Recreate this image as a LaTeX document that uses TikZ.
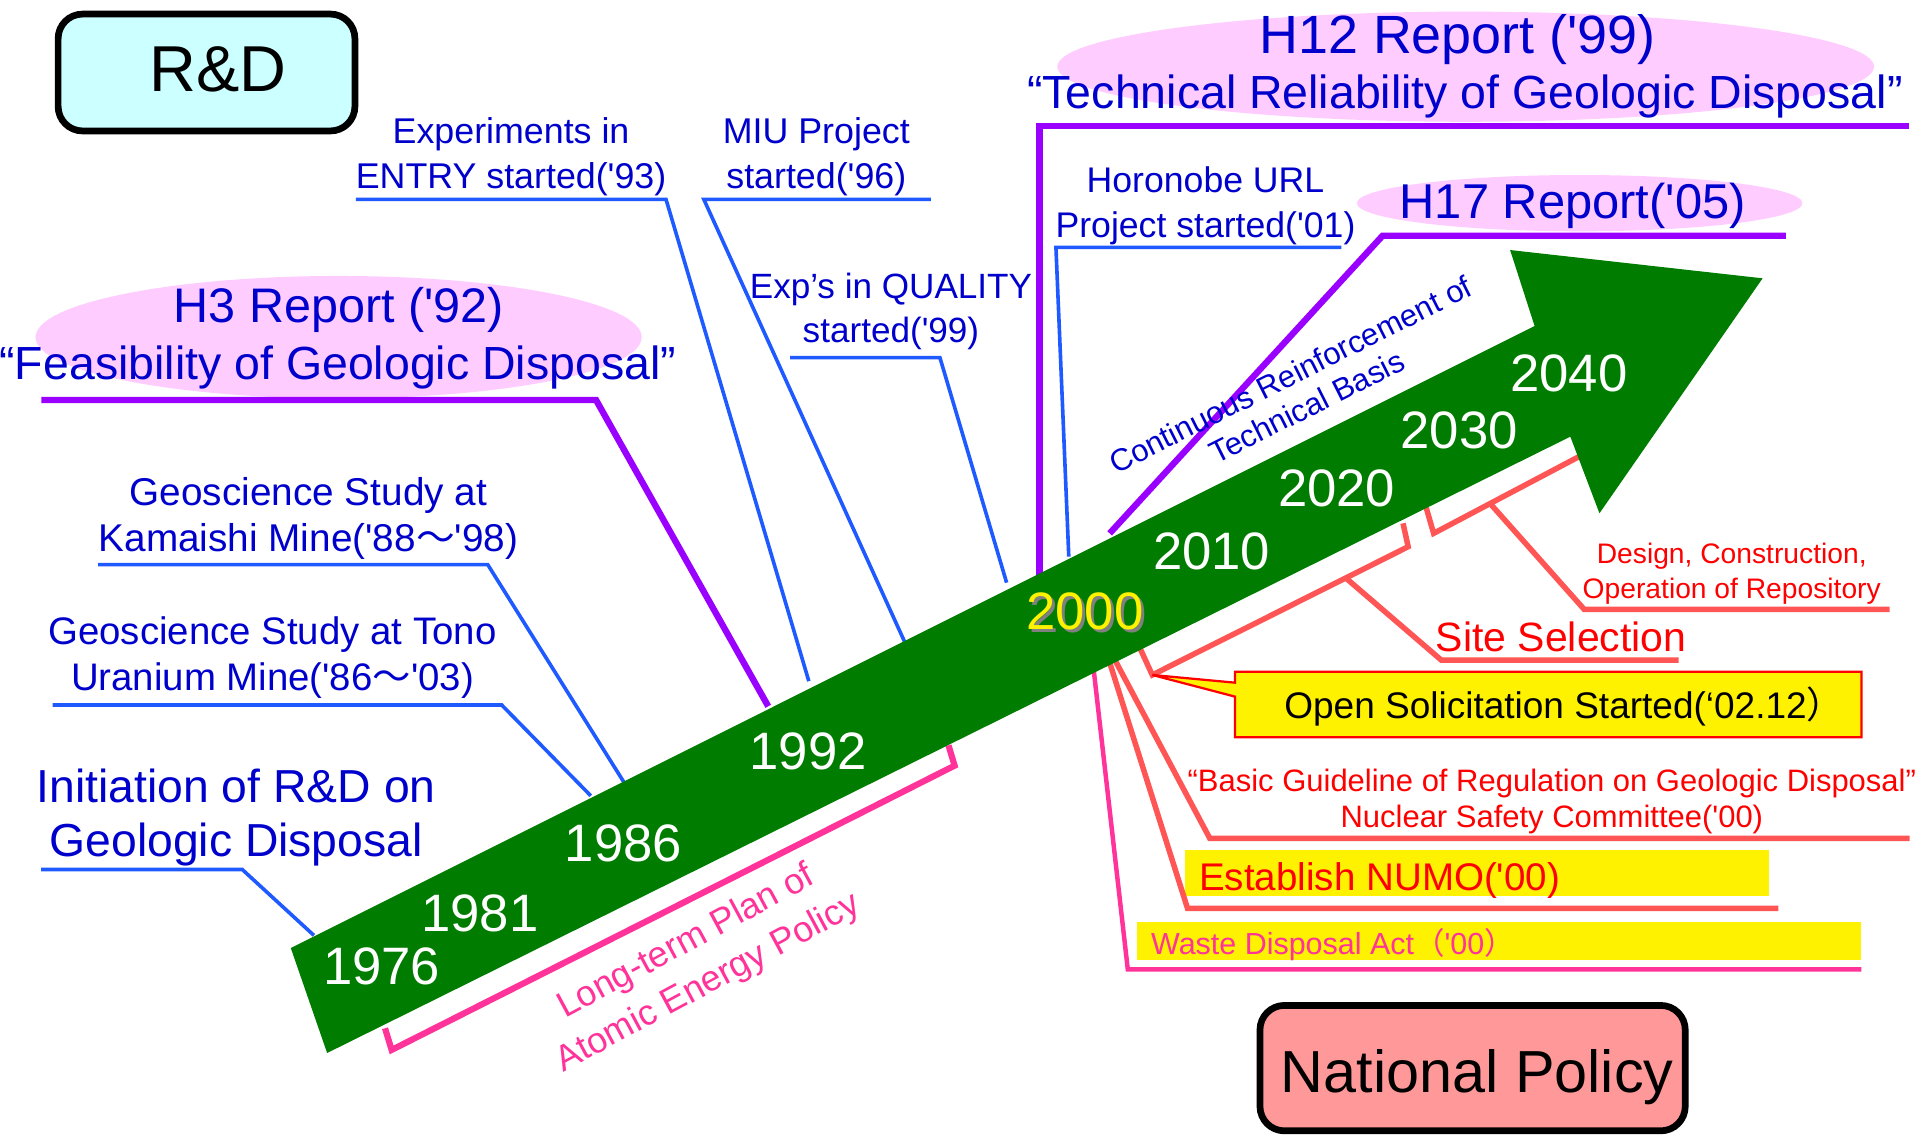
\documentclass[tikz,border=0pt]{standalone}
\usepackage{fontspec}
\setmainfont{Liberation Sans}
\newfontfamily\cjk{Noto Sans CJK JP}
\newcommand\sq{\textquotesingle}
\newcommand\fsz[2]{\fontsize{#1}{#2}\selectfont}
\definecolor{tblue}{RGB}{0,0,204}
\definecolor{lblue}{RGB}{30,90,255}
\definecolor{purp}{RGB}{153,0,255}
\definecolor{pinkfill}{RGB}{255,204,255}
\definecolor{bandgreen}{RGB}{0,125,0}
\definecolor{lred}{RGB}{255,85,85}
\definecolor{tred}{RGB}{255,0,0}
\definecolor{tpink}{RGB}{255,51,153}
\definecolor{cyanfill}{RGB}{204,255,255}
\definecolor{salmon}{RGB}{255,153,153}
\begin{document}
\begin{tikzpicture}[x=0.025cm,y=-0.025cm,
  every node/.style={inner sep=0pt,outer sep=0pt},
  titlebox/.style={draw=black,line width=3.9pt,rounded corners=0.5cm},
  purpline/.style={draw=purp,line width=3.7pt},
  blueline/.style={draw=lblue,line width=2.1pt},
  redline/.style={draw=lred,line width=3.2pt},
  pinkline/.style={draw=tpink,line width=2.6pt},
  bracketpink/.style={draw=tpink,line width=3.6pt},
  yearlbl/.style={text=white,font=\fsz{30.6pt}{36pt}},
  bluelbl/.style={align=center,text=tblue},
  reptitle/.style={anchor=base,text=tblue},
]
\useasboundingbox (0,0) rectangle (1568,927);

% ---------- pink ellipses behind report titles
\fill[pinkfill] (276.7,275.5) ellipse [x radius=6.19cm, y radius=1.25cm];
\fill[pinkfill] (1197.6,54.5) ellipse [x radius=8.34cm, y radius=1.125cm];
\fill[pinkfill] (1290.7,166) ellipse [x radius=4.55cm, y radius=0.575cm];

% ---------- title boxes
\draw[titlebox,fill=cyanfill] (47.5,11.5) rectangle (290,107);
\node[anchor=base,font=\fsz{37.7pt}{40pt}] (rd) at (178.4,74.9) {R\&D};
\draw[titlebox,fill=salmon] (1029.5,821.5) rectangle (1377,924);
\node[anchor=base,font=\fsz{34.5pt}{38pt}] (np) at (1207,893) {National Policy};

% ---------- coordinates of connector bends and ends
\coordinate (h3a) at (33.9,326.8);   \coordinate (h3b) at (487,326.8);    \coordinate (h3c) at (627.7,577.1);
\coordinate (h12a) at (1559.7,103);  \coordinate (h12b) at (849.5,103);   \coordinate (h12c) at (849.5,471);
\coordinate (h17a) at (1459.3,192.6);\coordinate (h17b) at (1129.7,192.6);\coordinate (h17c) at (906.7,435.8);
\coordinate (expa) at (290.7,162.9); \coordinate (expb) at (544.2,162.9); \coordinate (expc) at (660.9,556.6);
\coordinate (miua) at (760.6,162.9); \coordinate (miub) at (575.1,162.9); \coordinate (miuc) at (739.1,524.3);
\coordinate (qua) at (645.5,292.2);  \coordinate (qub) at (768,292.2);    \coordinate (quc) at (822.5,476.1);
\coordinate (hora) at (1096,202.1);  \coordinate (horb) at (862.8,202.1); \coordinate (horc) at (873.3,454.8);
\coordinate (kama) at (80.2,461.3);  \coordinate (kamb) at (398.5,461.3); \coordinate (kamc) at (509.9,639.3);
\coordinate (tona) at (43.1,576);    \coordinate (tonb) at (409.9,576);   \coordinate (tonc) at (482.7,650.2);
\coordinate (inia) at (33.7,710.5);  \coordinate (inib) at (198,710.5);   \coordinate (inic) at (256.5,764.3);
\coordinate (ssa) at (931.5,529.7);  \coordinate (ssb) at (941.5,551.5);  \coordinate (ssc) at (1150.6,446.7); \coordinate (ssd) at (1146.4,427.6);
\coordinate (ssm) at (1100.5,473);   \coordinate (sse) at (1177.6,539.3); \coordinate (ssf) at (1371.5,539.3);
\coordinate (dca) at (1165.1,414);   \coordinate (dcb) at (1171.4,435.8); \coordinate (dcc) at (1290.2,373.1);
\coordinate (dcm) at (1217.2,411);   \coordinate (dce) at (1294.4,497.9); \coordinate (dcf) at (1544,497.9);
\coordinate (bga) at (911,539.3);    \coordinate (bgb) at (988.5,685);    \coordinate (bgc) at (1560.3,685);
\coordinate (nma) at (905.6,537.9);  \coordinate (nmb) at (970.3,742.2);  \coordinate (nmc) at (1453,742.2);
\coordinate (wda) at (893.3,544.2);  \coordinate (wdb) at (921.5,792);    \coordinate (wdc) at (1521,792);
\coordinate (lta) at (314.6,840.2);  \coordinate (ltb) at (320,857.9);    \coordinate (ltc) at (780,625.6); \coordinate (ltd) at (775,609);

% ---------- R&D connectors
\draw[purpline] (h3a) -- (h3b) -- (h3c);
\draw[purpline] (h12a) -- (h12b) -- (h12c);
\draw[purpline] (h17a) -- (h17b) -- (h17c);
\draw[blueline] (expa) -- (expb) -- (expc);
\draw[blueline] (miua) -- (miub) -- (miuc);
\draw[blueline] (qua) -- (qub) -- (quc);
\draw[blueline] (hora) -- (horb) -- (horc);
\draw[blueline] (kama) -- (kamb) -- (kamc);
\draw[blueline] (tona) -- (tonb) -- (tonc);
\draw[blueline] (inia) -- (inib) -- (inic);

% ---------- national policy connectors
\fill[yellow] (968.4,694.5) rectangle (1445.8,732.1);
\fill[yellow] (928.7,753) rectangle (1521,784.4);
\draw[redline] (ssa) -- (ssb) -- (ssc) -- (ssd);
\draw[redline] (ssm) -- (sse) -- (ssf);
\draw[redline] (dca) -- (dcb) -- (dcc);
\draw[redline] (dcm) -- (dce) -- (dcf);
\draw[redline] (bga) -- (bgb) -- (bgc);
\draw[redline] (nma) -- (nmb) -- (nmc);
\draw[pinkline] (wda) -- (wdb) -- (wdc);
\draw[bracketpink] (lta) -- (ltb) -- (ltc) -- (ltd);

% ---------- callout
\draw[fill=yellow,draw=tred,line width=1.3pt]
  (1009.1,548.8) -- (1521,548.8) -- (1521,602.4) -- (1009.1,602.4) -- (1009.1,569.2)
  -- (ssb) -- (1009.1,557.8) -- cycle;

% ---------- green time arrow
\fill[bandgreen] (237.6,774.6) -- (1253.9,266.4) -- (1233.9,204.3) -- (1440.2,227.4)
  -- (1306.9,419.4) -- (1283.1,356.8) -- (267.3,860.4) -- cycle;

% ---------- years
\node[yearlbl] (y1976) at (311.9,789.2) {1976};
\node[yearlbl] (y1981) at (392.2,746.2) {1981};
\node[yearlbl] (y1986) at (509.3,689) {1986};
\node[yearlbl] (y1992) at (660.4,614.2) {1992};
\node[yearlbl,text=gray] (y2000s) at (888.8,502.1) {2000};
\node[yearlbl,text=yellow] (y2000) at (886.5,499.8) {2000};
\node[yearlbl] (y2010) at (990,450.8) {2010};
\node[yearlbl] (y2020) at (1092.1,399) {2020};
\node[yearlbl] (y2030) at (1192.2,351.3) {2030};
\node[yearlbl] (y2040) at (1281.9,305) {2040};

% ---------- report titles
\node[reptitle,font=\fsz{28.2pt}{30pt}] (h3t) at (276.8,263.4) {H3 Report (\sq92)};
\node[reptitle,font=\fsz{27pt}{30pt}] (h3s) at (276,309.8) {“Feasibility of Geologic Disposal”};
\node[reptitle,font=\fsz{31.3pt}{34pt}] (h12t) at (1191,43.7) {H12 Report (\sq99)};
\node[reptitle,font=\fsz{27pt}{30pt}] (h12s) at (1197,88.5) {“Technical Reliability of Geologic Disposal”};
\node[reptitle,font=\fsz{28.4pt}{30pt}] (h17t) at (1285,178.3) {H17 Report(\sq05)};

% ---------- R&D labels
\node[bluelbl,font=\fsz{20.8pt}{26pt}] (exp) at (417.6,128.2) {Experiments in\\ENTRY started(\sq93)};
\node[bluelbl,font=\fsz{20.8pt}{26pt}] (miu) at (667,128.2) {MIU Project\\started(\sq96)};
\node[bluelbl,font=\fsz{20.4pt}{25.6pt}] (qua) at (728,254.5) {Exp’s in QUALITY\\started(\sq99)};
\node[bluelbl,font=\fsz{20.7pt}{26.2pt}] (hor) at (985,168.3) {Horonobe URL\\Project started(\sq01)};
\node[bluelbl,font=\fsz{22.5pt}{26.7pt}] (kam) at (252,423.6) {Geoscience Study at\\Kamaishi Mine(\sq88{\cjk ～}\sq98)};
\node[bluelbl,font=\fsz{22.3pt}{27pt}] (ton) at (222.6,537.3) {Geoscience Study at Tono\\Uranium Mine(\sq86{\cjk ～}\sq03)};
\node[bluelbl,font=\fsz{26.9pt}{31.5pt}] (ini) at (193,667.7) {Initiation of R\&D on\\Geologic Disposal};
\node[bluelbl,font=\fsz{18pt}{20.8pt},rotate=26.7] (crtb) at (1061,319) {Continuous Reinforcement of\\Technical Basis};

% ---------- national policy labels
\node[align=center,text=tpink,font=\fsz{20.9pt}{27pt},rotate=28.3] (ltp) at (570,787) {Long-term Plan of\\Atomic Energy Policy};
\node[align=center,text=tred,font=\fsz{16.4pt}{20.4pt}] (dco) at (1415,468.7) {Design, Construction,\\Operation of Repository};
\node[anchor=base,text=tred,font=\fsz{23.8pt}{26pt}] (ss) at (1275.6,532.2) {Site Selection};
\node[anchor=base,text=black,font=\fsz{21.5pt}{24pt}] (os) at (1278,586.8) {Open Solicitation Started(‘02.12{\cjk ）}};
\node[align=center,text=tred,font=\fsz{18pt}{21.3pt}] (bg) at (1268,654.8) {“Basic Guideline of Regulation on Geologic Disposal”\\Nuclear Safety Committee(\sq00)};
\node[anchor=base west,text=tred,font=\fsz{22.4pt}{24pt}] (numo) at (979.9,727.6) {Establish NUMO(\sq00)};
\node[anchor=base west,text=tpink,font=\fsz{17.7pt}{20pt}] (wda) at (940.6,779.7) {Waste Disposal Act{\cjk （}\sq00{\cjk ）}};
\end{tikzpicture}
\end{document}
